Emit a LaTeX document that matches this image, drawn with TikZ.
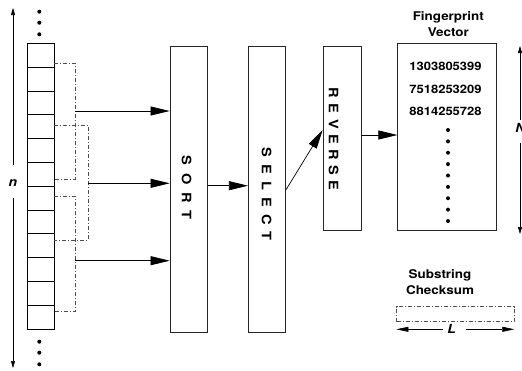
\documentclass[tikz,border=0pt]{standalone}
\usepackage{fontspec}
\setmainfont[FakeStretch=1.12]{TeX Gyre Heros}
\usetikzlibrary{arrows.meta}
\begin{document}
\begin{tikzpicture}[x=1pt,y=-1pt,
 box/.style={draw=black!85, line width=0.7pt, inner sep=0pt, anchor=center},
 cell/.style={draw=black, line width=0.7pt, minimum width=27pt, minimum height=23.8pt, inner sep=0pt},
 arr/.style={line width=0.7pt, -{Triangle[length=19pt,width=9pt]}},
 narr/.style={line width=0.6pt, -{Triangle[length=7pt,width=4pt]}},
 larr/.style={line width=0.6pt, -{Triangle[length=12pt,width=5pt]}},
 bracket/.style={draw=black!70, line width=0.6pt, dash pattern=on 4pt off 2pt on 1pt off 2pt},
 lbl/.style={font=\bfseries\fontsize{12}{15.7}\selectfont, align=center, inner sep=0pt},
 numl/.style={font=\bfseries\fontsize{11.6}{14}\selectfont, inner sep=0pt},
 vlbl/.style={font=\bfseries\fontsize{13}{14}\selectfont, rotate=-90, inner sep=0pt},
 ital/.style={font=\bfseries\itshape\fontsize{12.5}{14}\selectfont, inner sep=0pt},
 dotn/.style={circle, fill=black, inner sep=0pt, minimum size=4pt},
 sdot/.style={circle, fill=black, inner sep=0pt, minimum size=4pt}]
\useasboundingbox (0,0) rectangle (522,370);

% left column of cells
\foreach \i in {1,...,12} \node[cell] (c\i) at (40.5,{43.3+23.8*(\i-0.5)}) {};
\node[dotn] (t1) at (39.3,11.7) {};
\node[dotn] (t2) at (39.3,22.7) {};
\node[dotn] (t3) at (39.3,34.3) {};
\node[dotn] (u1) at (39.3,341.7) {};
\node[dotn] (u2) at (39.3,352.7) {};
\node[dotn] (u3) at (39.3,364.3) {};

% n arrow
\node[ital] (nlab) at (13,182.7) {n};
\coordinate (n1) at (13,165);
\coordinate (ntop) at (13,8);
\coordinate (n2) at (13,198);
\coordinate (nbot) at (13,368);
\draw[narr] (n1) -- (ntop);
\draw[narr] (n2) -- (nbot);

% windows (brackets)
\draw[bracket] (54,63.3) -- (75,63.3) -- (75,179.3) -- (54,179.3);
\draw[bracket] (54,125) -- (88,125) -- (88,240) -- (54,240);
\draw[bracket] (54,196) -- (75,196) -- (75,311.7) -- (54,311.7);

% boxes
\node[box, minimum width=37.3pt, minimum height=286pt] (sort) at (188.6,189.7) {};
\node[vlbl] (sortt) at (186.7,187.5) {S\hspace{7.8pt}O\hspace{7.8pt}R\hspace{7.8pt}T};
\node[box, minimum width=37.4pt, minimum height=286pt] (select) at (267,189.7) {};
\node[vlbl] (selectt) at (266.7,194) {S\hspace{7.2pt}E\hspace{7.2pt}L\hspace{7.2pt}E\hspace{7.2pt}C\hspace{7.2pt}T};
\node[box, minimum width=38pt, minimum height=183.3pt] (reverse) at (342,138.3) {};
\node[vlbl] (reverset) at (333.5,139.2) {R\hspace{5.5pt}E\hspace{5.5pt}V\hspace{5.5pt}E\hspace{5.5pt}R\hspace{5.5pt}S\hspace{5.5pt}E};
\node[box, minimum width=99pt, minimum height=186.7pt] (fv) at (447.2,136.7) {};
\node[lbl] (fvt) at (448.3,24) {Fingerprint\\Vector};
\node[numl] (v1) at (445.5,66.7) {1303805399};
\node[numl] (v2) at (445.5,89) {7518253209};
\node[numl] (v3) at (445.5,111) {8814255728};
\foreach \k in {0,...,8} \node[sdot] (fd\k) at (448,{130+11.375*\k}) {};

% input arrows
\coordinate (a1) at (75,111);
\coordinate (a2) at (88,183.3);
\coordinate (a3) at (75,260.7);
\draw[arr] (a1) -- (a1 -| sort.west);
\draw[arr] (a2) -- (a2 -| sort.west);
\draw[arr] (a3) -- (a3 -| sort.west);

% pipeline arrows
\draw[arr] (sort.east |- 0,185.7) -- (select.west |- 0,185.7);
\draw[arr] (select.east) -- (reverse.west |- 0,130);
\draw[arr] (reverse.east |- 0,135) -- (fv.west |- 0,135);

% N arrow
\node[ital] (Nlab) at (520.5,128) {N};
\coordinate (N1) at (520,120);
\coordinate (Ntop) at (520,46);
\coordinate (N2) at (520,143.3);
\coordinate (Nbot) at (520,234);
\draw[narr] (N1) -- (Ntop);
\draw[narr] (N2) -- (Nbot);

% substring checksum
\node[lbl] (sct) at (440,282.3) {Substring\\Checksum};
\node[bracket, minimum width=117.3pt, minimum height=15pt, inner sep=0pt] (scb) at (455.35,314.2) {};
\node[ital] (Llab) at (451.7,329.3) {L};
\coordinate (L1) at (443.3,329.3);
\coordinate (L2) at (466,329.3);
\draw[larr] (L1) -- (L1 -| scb.west);
\draw[larr] (L2) -- (L2 -| scb.east);
\end{tikzpicture}
\end{document}
